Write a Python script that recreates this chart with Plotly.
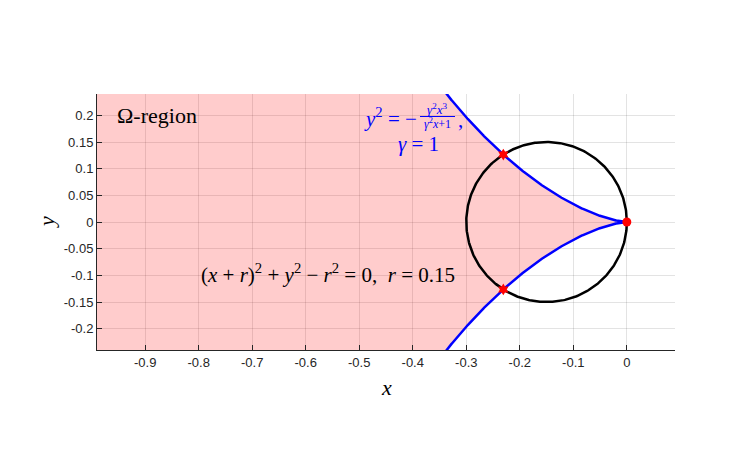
import numpy as np
import plotly.graph_objects as go

# ---- chart parameters / data ----
R = 0.15            # circle radius (from label r = 0.15)
GAMMA = 1.0         # cissoid parameter (from label gamma = 1)
X_RANGE = [-0.99, 0.09]
Y_RANGE = [-0.24, 0.24]
X_TICKS = [-0.9, -0.8, -0.7, -0.6, -0.5, -0.4, -0.3, -0.2, -0.1, 0.0]
X_TICK_LABELS = ["-0.9", "-0.8", "-0.7", "-0.6", "-0.5", "-0.4", "-0.3", "-0.2", "-0.1", "0"]
Y_TICKS = [-0.2, -0.15, -0.1, -0.05, 0.0, 0.05, 0.1, 0.15, 0.2]
Y_TICK_LABELS = ["-0.2", "-0.15", "-0.1", "-0.05", "0", "0.05", "0.1", "0.15", "0.2"]
MARK_X = [-0.2308, -0.2308]
MARK_Y = [0.1264, -0.1264]
ORIGIN_X = [0.0]
ORIGIN_Y = [0.0]

# ---- curves from the equations shown in the chart ----
xc = np.linspace(-0.36, 0.0, 500)
g2 = GAMMA ** 2
yc = np.sqrt(np.clip(-g2 * xc**3 / (g2 * xc + 1), 0, None))

t = np.linspace(0, 2 * np.pi, 400)
circ_x = -R + R * np.cos(t)
circ_y = R * np.sin(t)

# region left of the cissoid
fill_x = np.concatenate([[-1.3], xc, xc[::-1], [-1.3]])
fill_y = np.concatenate([[yc[0]], yc, -yc[::-1], [-yc[0]]])

# page body has an 8px margin; target plot area in window px: x 97..675, y 94..350
OFF = 8
W, H = 746 - OFF, 469 - OFF
L, T = 97 - OFF, 94 - OFF
Rm, B = W - (675 - OFF), H - (350 - OFF)
pw, ph = W - L - Rm, H - T - B
def dx(px):  # window px -> data x
    return X_RANGE[0] + (px - OFF - L) / pw * (X_RANGE[1] - X_RANGE[0])
def dy(py):  # window px -> data y
    return Y_RANGE[1] - (py - OFF - T) / ph * (Y_RANGE[1] - Y_RANGE[0])

fig = go.Figure()
fig.add_trace(go.Scatter(x=fill_x, y=fill_y, fill="toself", mode="none",
                         fillcolor="rgba(255,0,0,0.2)", hoverinfo="skip", showlegend=False))
fig.add_trace(go.Scatter(x=circ_x, y=circ_y, mode="lines",
                         line=dict(color="black", width=2.5), showlegend=False))
fig.add_trace(go.Scatter(x=xc, y=yc, mode="lines",
                         line=dict(color="blue", width=2.5), showlegend=False))
fig.add_trace(go.Scatter(x=xc, y=-yc, mode="lines",
                         line=dict(color="blue", width=2.5), showlegend=False))
fig.add_trace(go.Scatter(x=MARK_X, y=MARK_Y, mode="markers",
                         marker=dict(color="red", size=9, symbol="hexagram"), showlegend=False))
fig.add_trace(go.Scatter(x=ORIGIN_X, y=ORIGIN_Y, mode="markers",
                         marker=dict(color="red", size=9, symbol="circle"), showlegend=False))

SERIF = "Liberation Serif"
ann = []
ann.append(dict(x=dx(116), y=dy(115), text="Ω-region", xanchor="left", yanchor="middle",
                showarrow=False, borderpad=0, font=dict(family=SERIF, size=22, color="black")))
# blue equation with a stacked fraction
ann.append(dict(x=dx(418), y=dy(117), text="<i>y</i><sup>2</sup> = −", xanchor="right", yanchor="middle",
                showarrow=False, borderpad=0, font=dict(family=SERIF, size=21, color="blue")))
ann.append(dict(x=dx(437), y=dy(109), text="<i>γ</i><sup>2</sup><i>x</i><sup>3</sup>", xanchor="center",
                yanchor="middle", showarrow=False, borderpad=0, font=dict(family=SERIF, size=13, color="blue")))
ann.append(dict(x=dx(437), y=dy(123), text="<i>γ</i><sup>2</sup><i>x</i>+1", xanchor="center",
                yanchor="middle", showarrow=False, borderpad=0, font=dict(family=SERIF, size=12, color="blue")))
ann.append(dict(x=dx(457), y=dy(120), text=",", xanchor="left", yanchor="middle",
                showarrow=False, borderpad=0, font=dict(family=SERIF, size=21, color="blue")))
ann.append(dict(x=dx(418), y=dy(144), text="<i>γ</i> = 1", xanchor="center", yanchor="middle",
                showarrow=False, borderpad=0, font=dict(family=SERIF, size=21, color="blue")))
ann.append(dict(x=dx(328), y=dy(273),
                text="(<i>x</i> + <i>r</i>)<sup>2</sup> + <i>y</i><sup>2</sup> − <i>r</i><sup>2</sup> = 0,  <i>r</i> = 0.15",
                xanchor="center", yanchor="middle", showarrow=False,
                font=dict(family=SERIF, size=21, color="black")))
# axis labels
ann.append(dict(x=0.5, y=0, xref="paper", yref="paper", yshift=-37, text="<i>x</i>",
                xanchor="center", yanchor="middle", showarrow=False,
                font=dict(family=SERIF, size=22, color="black")))
ann.append(dict(x=0, y=0.5, xref="paper", yref="paper", xshift=-51, text="<i>y</i>", textangle=-90,
                xanchor="center", yanchor="middle", showarrow=False,
                font=dict(family=SERIF, size=22, color="black")))

shapes = [dict(type="line", xref="x", yref="y", x0=dx(420), x1=dx(455), y0=dy(116.5), y1=dy(116.5),
               line=dict(color="blue", width=1))]

axcol = "rgb(38,38,38)"
fig.update_layout(
    width=W, height=H, margin=dict(l=L, r=Rm, t=T, b=B),
    paper_bgcolor="white", plot_bgcolor="white",
    annotations=ann, shapes=shapes,
    xaxis=dict(range=X_RANGE, tickvals=X_TICKS, ticktext=X_TICK_LABELS, ticks="inside", ticklen=5,
               tickcolor=axcol, showline=True, linecolor=axcol, linewidth=1, mirror=False,
               showgrid=True, gridcolor="rgba(38,38,38,0.13)", gridwidth=1, zeroline=False,
               tickfont=dict(family="Liberation Sans", size=13, color=axcol)),
    yaxis=dict(range=Y_RANGE, tickvals=Y_TICKS, ticktext=Y_TICK_LABELS, ticks="inside", ticklen=5,
               tickcolor=axcol, showline=True, linecolor=axcol, linewidth=1, mirror=False,
               showgrid=True, gridcolor="rgba(38,38,38,0.13)", gridwidth=1, zeroline=False,
               tickfont=dict(family="Liberation Sans", size=13, color=axcol)),
)
fig.write_html("out.html")
